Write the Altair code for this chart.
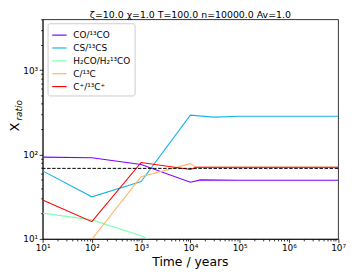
import altair as alt
import pandas as pd

species = ["CO/¹³CO", "CS/¹³CS", "H₂CO/H₂¹³CO", "C/¹³C", "C⁺/¹³C⁺"]
colors = ["#8000ff", "#1ab4eb", "#80ffb4", "#ffb462", "#ff0000"]

co_t = [10, 100, 1000, 1e4, 1.6e4, 1e5, 1e6, 1e7]
co_v = [93, 91.5, 76, 47, 50, 49.5, 49.5, 49.5]
cs_t = [10, 100, 1000, 1e4, 3e4, 1e5, 1e6, 1e7]
cs_v = [64, 31.5, 47.7, 293, 277, 284, 284, 284]
h2co_t = [10, 100, 1000, 1e4]
h2co_v = [20.2, 16.8, 10.9, 5.5]
c_t = [100, 1000, 1e4, 1.3e4, 1e5, 1e6, 1e7]
c_v = [9.9, 54.7, 78, 70.5, 70.5, 70.5, 70.5]
cp_t = [10, 100, 1000, 1e4, 1.3e4, 1e5, 1e6, 1e7]
cp_v = [29, 16, 80.5, 66.5, 70.5, 70.5, 70.5, 70.5]
ref_ratio = [68.5]

title_text = "ζ=10.0 χ=1.0 T=100.0 n=10000.0  Av=1.0"
x_title = "Time / years"

x_ticks = [m * 10 ** d for d in range(1, 7) for m in range(1, 10)] + [1e7]
y_ticks = [v for v in (m * 10 ** d for d in range(1, 4) for m in range(1, 10)) if v <= 4000]

rows = []
for name, ts, vs in zip(species, [co_t, cs_t, h2co_t, c_t, cp_t], [co_v, cs_v, h2co_v, c_v, cp_v]):
    for i, (t, v) in enumerate(zip(ts, vs)):
        rows.append({"species": name, "time": t, "ratio": v, "i": i})
df = pd.DataFrame(rows)

FONT = "DejaVu Sans"
major = "abs(log(datum.value)/LN10 - round(log(datum.value)/LN10)) < 1e-6"
sup = "['⁰','¹','²','³','⁴','⁵','⁶','⁷']"
label_expr = f"{major} ? '10' + {sup}[round(log(datum.value)/LN10)] : ''"

W, H = 298.7, 222


def make_axis(vals):
    return alt.Axis(
        values=vals,
        labelExpr=label_expr,
        title=None,
        grid=False,
        tickSize={"condition": {"test": major, "value": 3.5}, "value": 2},
        tickWidth=0.8,
        tickColor="black",
        domainColor="black",
        domainWidth=0.8,
        labelColor="black",
        labelFont=FONT,
        labelFontSize=9,
        labelPadding=1.5,
        labelFlush=False,
        labelOverlap=False,
    )


xscale = alt.Scale(type="log", domain=[10, 1e7], nice=False)
yscale = alt.Scale(type="log", domain=[10, 4000], nice=False)

lines = alt.Chart(df).mark_line(strokeWidth=1.1, clip=True).encode(
    x=alt.X("time:Q", scale=xscale, axis=make_axis(x_ticks)),
    y=alt.Y("ratio:Q", scale=yscale, axis=make_axis(y_ticks)),
    color=alt.Color(
        "species:N",
        scale=alt.Scale(domain=species, range=colors),
        legend=alt.Legend(
            title=None,
            orient="none",
            legendX=5,
            legendY=4,
            symbolType="stroke",
            symbolSize=210,
            symbolStrokeWidth=1.2,
            labelFont=FONT,
            labelFontSize=9,
            labelColor="black",
            rowPadding=-0.5,
            padding=4,
            fillColor="white",
            strokeColor="#cccccc",
            cornerRadius=2,
            labelOffset=6,
        ),
    ),
    order="i:Q",
)

ref = alt.Chart(pd.DataFrame({"r": ref_ratio})).mark_rule(
    color="black", strokeWidth=1, strokeDash=[3.5, 1.6]
).encode(y=alt.Y("r:Q", scale=yscale))

ytitle_x = alt.Chart(pd.DataFrame({"t": ["X"]})).mark_text(
    angle=270, font=FONT, fontSize=13, color="black", baseline="middle", align="center"
).encode(text="t:N", x=alt.value(-28), y=alt.value(109))
ytitle_sub = alt.Chart(pd.DataFrame({"t": ["ratio"]})).mark_text(
    angle=270, font=FONT, fontSize=9, fontStyle="italic", color="black", baseline="middle", align="center"
).encode(text="t:N", x=alt.value(-24), y=alt.value(92))
xtitle = alt.Chart(pd.DataFrame({"t": [x_title]})).mark_text(
    font=FONT, fontSize=12.5, color="black", baseline="middle", align="center"
).encode(text="t:N", x=alt.value(W / 2), y=alt.value(245))
title = alt.Chart(pd.DataFrame({"t": [title_text]})).mark_text(
    font=FONT, fontSize=9.5, color="black", baseline="top", align="center"
).encode(text="t:N", x=alt.value(W / 2), y=alt.value(-9.5))

chart = alt.layer(lines, ref, ytitle_x, ytitle_sub, xtitle, title).properties(
    width=W,
    height=H,
    autosize="none",
    padding={"left": 35, "top": 10, "right": 10, "bottom": 29},
).configure_view(stroke="black", strokeWidth=0.8)

chart.save("out.html", embed_options={"renderer": "svg", "actions": False})
